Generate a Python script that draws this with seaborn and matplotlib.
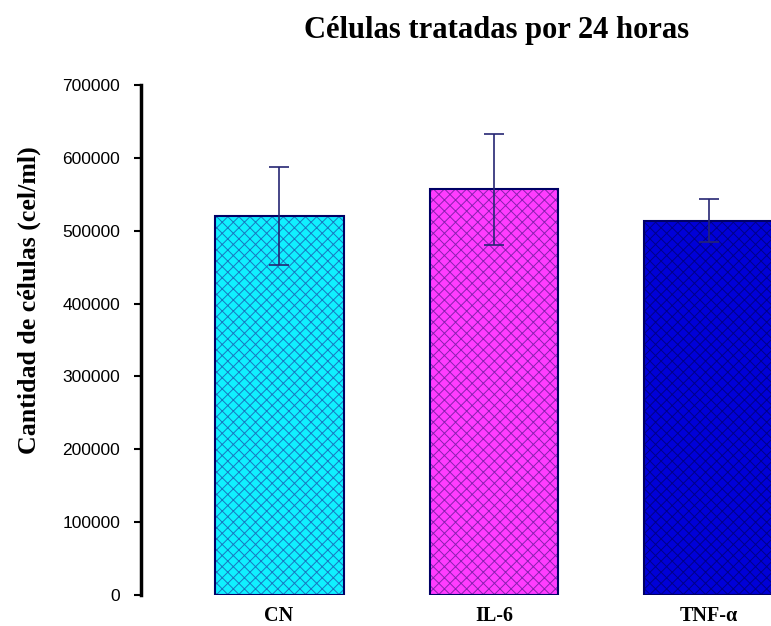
import matplotlib
matplotlib.use("Agg")
import matplotlib.pyplot as plt
from matplotlib.colors import to_rgba
import seaborn as sns
import pandas as pd

# Cell counts after 24 h of treatment
categories = ["CN", "IL-6", "TNF-α"]
means = [520000, 557000, 514000]
errors = [67000, 76000, 29000]
fill_colors = ["#10F0FF", "#FF3CFF", "#0000D8"]
hatch_colors = ["#1878C0", "#8A20B0", "#000088"]

sns.set_theme(style="white")
plt.rcParams["hatch.linewidth"] = 0.7
plt.rcParams["text.color"] = "black"

df = pd.DataFrame({"grupo": categories, "celulas": means})

fig = plt.figure(figsize=(7.71, 6.26), dpi=100)
ax = fig.add_axes([141 / 771, 31 / 626, 706 / 771, 510 / 626])

sns.barplot(data=df, x="grupo", y="celulas", hue="grupo",
            palette=fill_colors, width=0.6, legend=False, ax=ax,
            saturation=1)

for patch, hc in zip(ax.patches, hatch_colors):
    patch.set_hatch("xxx")
    patch.set_edgecolor("#000066")
    patch.set_linewidth(1.5)
    patch._hatch_color = to_rgba(hc)

ax.errorbar(range(len(categories)), means, yerr=errors, fmt="none",
            ecolor="#262673", elinewidth=1.2, capsize=7, capthick=1.2,
            zorder=5)

ax.set_xlim(-0.642, 2.642)
ax.set_ylim(0, 700000)
ax.set_yticks(range(0, 700001, 100000))
ax.set_yticklabels([str(v) for v in range(0, 700001, 100000)],
                   fontsize=12.5, family="Liberation Sans")
ax.set_xticks(range(len(categories)))
ax.set_xticklabels(categories, fontsize=14.5, fontweight="bold",
                   family="Liberation Serif")

for side in ["top", "right", "bottom"]:
    ax.spines[side].set_visible(False)
ax.spines["left"].set_linewidth(2.5)
ax.spines["left"].set_color("black")

ax.tick_params(axis="y", which="major", left=True, length=5, width=1.5,
               direction="out", pad=10, colors="black")
ax.tick_params(axis="x", which="major", bottom=False, length=0, pad=8,
               colors="black")

ax.set_xlabel("")
ax.set_ylabel("Cantidad de células (cel/ml)", fontsize=18.6,
              fontweight="bold", family="Liberation Serif", color="black")
ax.yaxis.set_label_coords(-0.141, 0.578)

fig.text(497 / 771, 1 - 38 / 626, "Células tratadas por 24 horas",
         ha="center", va="baseline", fontsize=22, fontweight="bold",
         family="Liberation Serif", color="black")

fig.savefig("out.png", dpi=100)
